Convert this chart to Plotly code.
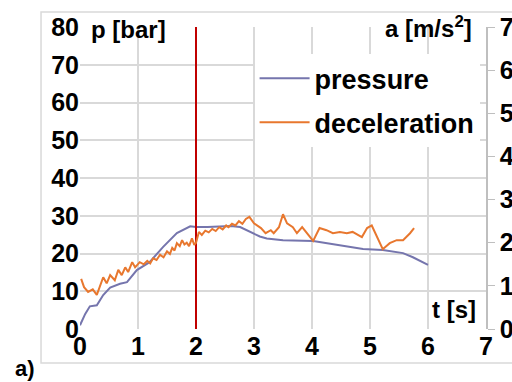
import plotly.graph_objects as go

# pressure (left axis, bar)
t_p = [0, 0.09, 0.17, 0.29, 0.40, 0.52, 0.69, 0.81, 0.98, 1.20, 1.43, 1.67, 1.90, 2.0, 2.2, 2.4, 2.6, 2.76,
       2.93, 3.10, 3.22, 3.50, 4.02, 4.48, 4.88, 5.22, 5.57, 5.74, 6.0]
p = [1, 4, 6, 6.3, 9, 11, 12, 12.4, 15.6, 17.7, 21.7, 25.4, 27.2, 27, 27, 27.2, 27.3, 27,
     25.7, 24.5, 24, 23.5, 23.3, 22.2, 21.2, 20.9, 20.1, 19, 17]

# deceleration (right axis, m/s^2)
t_a = [0.02, 0.07, 0.14, 0.22, 0.29, 0.34, 0.40, 0.46, 0.52, 0.60, 0.66, 0.72, 0.78, 0.83, 0.90, 0.95,
       1.03, 1.10, 1.16, 1.21, 1.26, 1.32, 1.38, 1.44, 1.50, 1.55, 1.59, 1.63, 1.67, 1.72, 1.76, 1.80,
       1.84, 1.88, 1.93, 1.97, 2.0, 2.05, 2.1, 2.16, 2.22, 2.28, 2.34, 2.40, 2.46, 2.52, 2.56, 2.62,
       2.68, 2.74, 2.8, 2.86, 2.92, 3.0, 3.06, 3.12, 3.2, 3.29, 3.34, 3.43, 3.5, 3.57, 3.67, 3.74,
       3.83, 3.91, 4.02, 4.13, 4.25, 4.36, 4.48, 4.6, 4.7, 4.86, 4.95, 5.03, 5.12, 5.22, 5.34, 5.46,
       5.57, 5.69, 5.76]
a = [1.16, 0.97, 0.86, 0.92, 0.79, 0.97, 1.2, 1.06, 1.25, 1.13, 1.37, 1.25, 1.43, 1.32, 1.55, 1.43,
     1.55, 1.50, 1.58, 1.52, 1.64, 1.60, 1.72, 1.66, 1.80, 1.74, 1.88, 1.82, 1.99, 1.92, 2.06, 1.96,
     2.00, 1.92, 2.10, 1.95, 2.00, 2.25, 2.18, 2.28, 2.24, 2.32, 2.27, 2.36, 2.31, 2.40, 2.36, 2.44,
     2.40, 2.50, 2.44, 2.55, 2.60, 2.45, 2.40, 2.34, 2.22, 2.29, 2.22, 2.36, 2.66, 2.45, 2.36, 2.22,
     2.36, 2.22, 2.04, 2.34, 2.29, 2.22, 2.25, 2.22, 2.25, 2.13, 2.34, 2.40, 2.13, 1.85, 1.99, 2.06,
     2.06, 2.22, 2.34]

marker_t = [2, 2]
marker_p = [0, 80]

x_ticks = [0, 1, 2, 3, 4, 5, 6, 7]
p_ticks = [0, 10, 20, 30, 40, 50, 60, 70, 80]
a_ticks = [0, 1, 2, 3, 4, 5, 6, 7]

FONT = "Liberation Sans, Arial, sans-serif"
GRID = "#d9d9d9"

fig = go.Figure()
fig.add_trace(go.Scatter(x=t_p, y=p, mode="lines", name="pressure",
                         line=dict(color="#7575ad", width=2), legendgroup="g1"))
fig.add_trace(go.Scatter(x=t_a, y=a, mode="lines", name="deceleration", yaxis="y2",
                         line=dict(color="#e8772e", width=2), legendgroup="g2"))
fig.add_trace(go.Scatter(x=marker_t, y=marker_p, mode="lines", showlegend=False,
                         line=dict(color="#c00000", width=2)))

fig.update_layout(
    width=512, height=382,
    margin=dict(l=80, r=26, t=27, b=53, autoexpand=False),
    paper_bgcolor="white", plot_bgcolor="white",
    font=dict(family=FONT, color="black"),
    xaxis=dict(range=[0, 7], tickvals=x_ticks, showgrid=True, gridcolor=GRID, gridwidth=1.5,
               zeroline=False, showline=False, ticks="", automargin=False,
               tickfont=dict(size=25, weight="bold")),
    yaxis=dict(range=[0, 80], tickvals=p_ticks, showgrid=True, gridcolor=GRID, gridwidth=1.5,
               zeroline=False, showline=False, ticks="", automargin=False,
               tickfont=dict(size=25, weight="bold")),
    yaxis2=dict(range=[0, 7], tickvals=a_ticks, overlaying="y", side="right", showgrid=False,
                zeroline=False, showline=True, linecolor="#bfbfbf", linewidth=1.5,
                ticks="outside", ticklen=7, tickcolor="#bfbfbf", automargin=False,
                tickfont=dict(size=25, weight="bold")),
    legend=dict(x=0.43, y=0.91, xanchor="left", yanchor="top", bgcolor="white",
                font=dict(size=27, family="Liberation Sans Narrow, Liberation Sans, Arial", weight="bold"),
                itemwidth=50, tracegroupgap=6, traceorder="grouped"),
    showlegend=True,
    shapes=[dict(type="rect", xref="paper", yref="paper", x0=-0.096, x1=1.2, y0=-0.1126, y1=1.0497,
                 line=dict(color="#d9d9d9", width=1.5), layer="below")],
    annotations=[
        dict(text="p [bar]", xref="paper", yref="paper", x=0.022, y=0.993, xanchor="left",
             yanchor="middle", showarrow=False, font=dict(size=24, weight="bold")),
        dict(text="a [m/s<sup>2</sup>]", xref="paper", yref="paper", x=0.97, y=1.0, xanchor="right",
             yanchor="middle", showarrow=False, font=dict(size=24, weight="bold")),
        dict(text="t [s]", xref="paper", yref="paper", x=0.98, y=0.063, xanchor="right",
             yanchor="middle", showarrow=False, font=dict(size=24, weight="bold")),
        dict(text="a)", xref="paper", yref="paper", x=-0.165, y=-0.13, xanchor="left",
             yanchor="middle", showarrow=False, font=dict(size=22, weight="bold")),
    ],
)

fig.write_html("out.html")
